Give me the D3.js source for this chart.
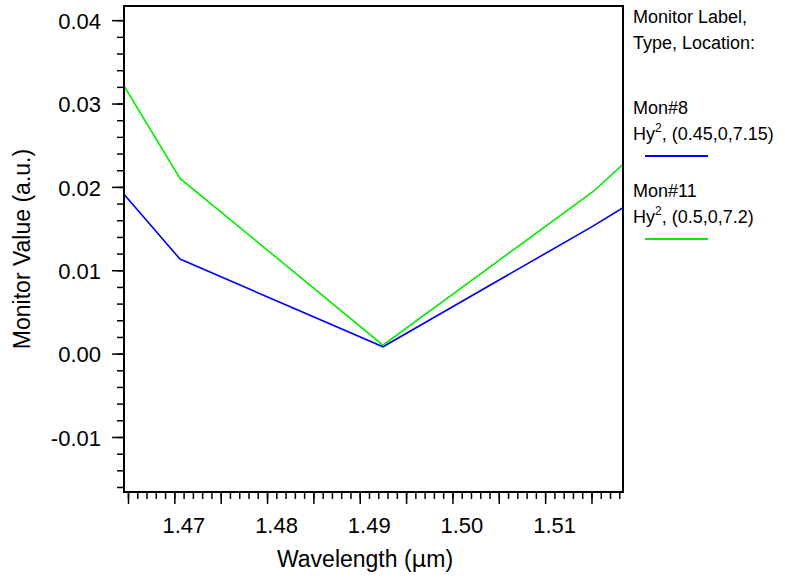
<!DOCTYPE html>
<html>
<head>
<meta charset="utf-8">
<script src="https://cdn.jsdelivr.net/npm/d3@7"></script>
<style>
  body { margin: 0; background: #fff; }
  text { font-family: Arial, "Liberation Sans", sans-serif; fill: #000; }
</style>
</head>
<body>
<div id="chart-area"></div>
<script>
// wavelength samples (um) and monitor values
var wavelengths = [1.46457, 1.47061, 1.49251, 1.51516, 1.5184];
var mon8Values  = [0.0191, 0.01134, 0.00082, 0.0153, 0.0175];
var mon11Values = [0.0321, 0.02102, 0.00102, 0.01942, 0.0227];

var xTicks = [1.47, 1.48, 1.49, 1.50, 1.51];
var yTicks = [-0.01, 0.00, 0.01, 0.02, 0.03, 0.04];

var legendHeader = ["Monitor Label,", "Type, Location:"];
var seriesNames  = ["Mon#8", "Mon#11"];
var seriesLocs   = [", (0.45,0,7.15)", ", (0.5,0,7.2)"];
var seriesColors = ["#0000ff", "#00ee00"];

var svgWidth = 785, svgHeight = 579;
var margin = { top: 6, left: 124, right: 162, bottom: 87 };
var width  = svgWidth - margin.left - margin.right;
var height = svgHeight - margin.top - margin.bottom;

var svg = d3.select("#chart-area")
            .append("svg")
            .attr("width", svgWidth)
            .attr("height", svgHeight);

var g = svg.append("g")
           .attr("transform", "translate(" + margin.left + "," + margin.top + ")");

var x = d3.scaleLinear()
          .domain([1.46457, 1.5184])
          .range([0, width]);

var y = d3.scaleLinear()
          .domain([-0.0166, 0.0417])
          .range([height, 0]);

// minor ticks
var xMinor = d3.range(1.465, 1.5185, 0.001);
var yMinor = d3.range(-0.016, 0.0418, 0.002);

g.append("g")
 .attr("transform", "translate(0," + height + ")")
 .call(d3.axisBottom(x).tickValues(xMinor).tickSize(7).tickFormat(""))
 .call(ax => ax.select(".domain").remove());

g.append("g")
 .call(d3.axisLeft(y).tickValues(yMinor).tickSize(7).tickFormat(""))
 .call(ax => ax.select(".domain").remove());

// major ticks every 0.005 on x, labelled every 0.01
var xMajor = d3.range(1.465, 1.5185, 0.005);
var xAxis = g.append("g")
 .attr("transform", "translate(0," + height + ")")
 .call(d3.axisBottom(x).tickValues(xMajor).tickSize(12)
         .tickFormat(d => xTicks.some(t => Math.abs(t - d) < 1e-6) ? d.toFixed(2) : ""));
xAxis.select(".domain").remove();
xAxis.selectAll("text")
     .attr("font-size", "22px")
     .attr("dx", 9)
     .attr("y", 19)
     .attr("dy", "1em");

var yAxis = g.append("g")
 .call(d3.axisLeft(y).tickValues(yTicks).tickSize(12)
         .tickFormat(d => d.toFixed(2).replace("\u2212", "-")));
yAxis.select(".domain").remove();
yAxis.selectAll("text")
     .attr("font-size", "22px")
     .attr("x", -23)
     .attr("dy", "0.38em");

g.selectAll(".tick line").attr("stroke", "#000").attr("stroke-width", 1.5);

// lines
g.append("clipPath").attr("id", "clip")
 .append("rect").attr("width", width).attr("height", height);

var line = d3.line()
             .x((d, i) => x(wavelengths[i]))
             .y(d => y(d));

[mon8Values, mon11Values].forEach((vals, i) => {
    g.append("path")
     .datum(vals)
     .attr("clip-path", "url(#clip)")
     .attr("fill", "none")
     .attr("stroke", seriesColors[i])
     .attr("stroke-width", 1.6)
     .attr("d", line);
});

// frame
g.append("rect")
 .attr("width", width)
 .attr("height", height)
 .attr("fill", "none")
 .attr("stroke", "#000")
 .attr("stroke-width", 2);

// axis titles
svg.append("text")
   .attr("x", 365)
   .attr("y", 567)
   .attr("text-anchor", "middle")
   .attr("font-size", "23px")
   .html("Wavelength (<tspan font-family='Symbol, DejaVu Sans'>\u03bc</tspan>m)");

svg.append("text")
   .attr("transform", "translate(30,249) rotate(-90)")
   .attr("text-anchor", "middle")
   .attr("font-size", "23px")
   .text("Monitor Value (a.u.)");

// legend
var lg = svg.append("g").attr("transform", "translate(633,0)");
legendHeader.forEach((t, i) => {
    lg.append("text").attr("x", 0).attr("y", 23 + i * 26)
      .attr("font-size", "18px").text(t);
});

seriesNames.forEach((name, i) => {
    var y0 = 114 + i * 83;
    lg.append("text").attr("x", 0).attr("y", y0)
      .attr("font-size", "18px").text(name);
    var t = lg.append("text").attr("x", 0).attr("y", y0 + 26).attr("font-size", "18px");
    t.append("tspan").text("Hy");
    t.append("tspan").attr("font-size", "12px").attr("dy", -8).text("2");
    t.append("tspan").attr("dy", 8).text(seriesLocs[i]);
    lg.append("line")
      .attr("x1", 12).attr("x2", 75)
      .attr("y1", y0 + 42).attr("y2", y0 + 42)
      .attr("stroke", seriesColors[i])
      .attr("stroke-width", 2);
});
</script>
</body>
</html>
